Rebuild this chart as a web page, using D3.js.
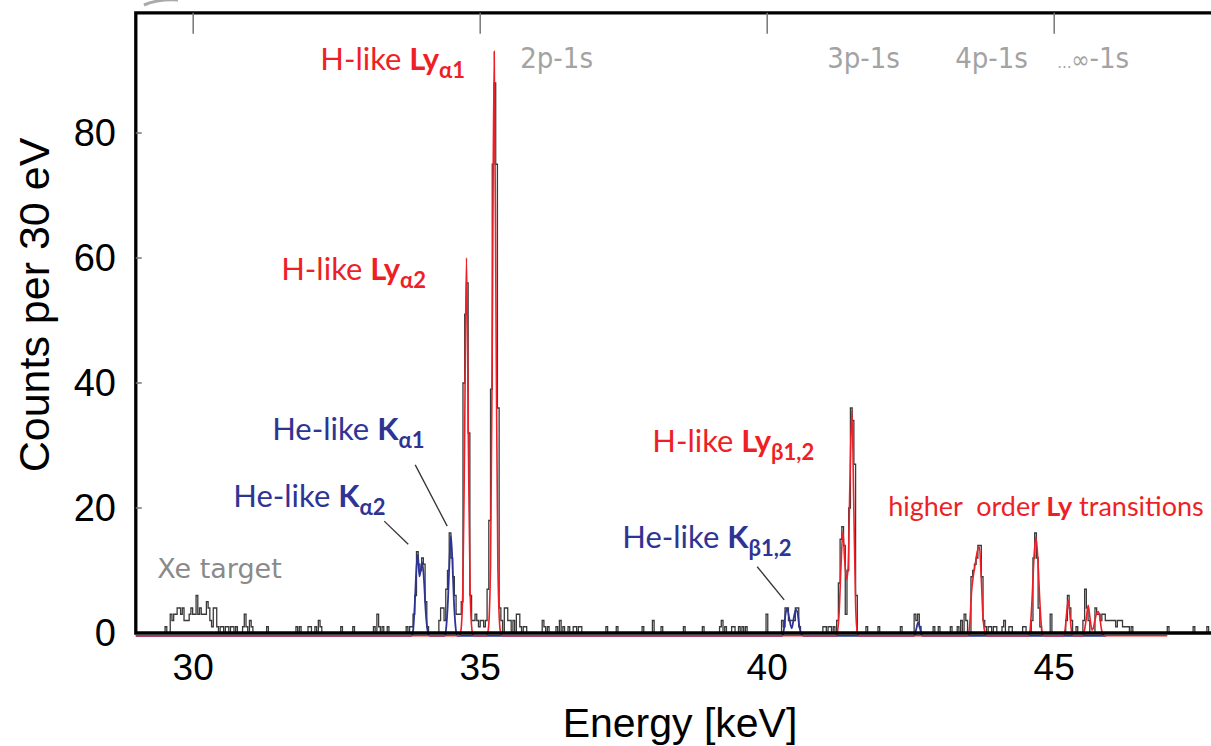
<!DOCTYPE html>
<html>
<head>
<meta charset="utf-8">
<script src="https://cdn.jsdelivr.net/npm/d3@7"></script>
<style>
    body { margin: 0; background: #fff; }
    svg { display: block; }
    text { white-space: pre; }
</style>
</head>
<body>
<div id="chart"></div>
<script>
(function () {

    // Histogram, 30 eV bins. Each run: energy of first bin [keV] + counts per bin
    var binWidth = 0.03;
    var runStart = [29.51, 30.86, 31.28, 31.79, 32.00, 32.57, 32.78, 33.14, 33.71, 34.28,
                    36.08, 37.19, 37.37, 37.82, 38.00, 38.15, 38.54, 38.87, 39.17, 39.98,
                    40.25, 40.97, 41.72, 41.93, 42.32, 42.56, 42.89, 43.19, 43.31, 44.09,
                    44.45, 44.60, 44.93, 45.20, 46.97, 47.42, 47.66];
    var runCounts = [
        [1,0,0,3,2,3,3,4,4,3,4,2,2,2,3,4,3,3,6,3,4,3,3,3,5,4,2,1,4,4,1,0,1,1,0,1,1,0,1,1,0,1],
        [1,3,1,0,2,1],
        [1],
        [1,0,1],
        [1,1,0,0,1,0,2,1],
        [1],
        [1],
        [1,0,3,1,0,1,0,0,1],
        [1,0,1,1,3,6,13,11,10,12,11,5,1],
        [2,4,4,2,7,10,16,12,9,6,3,3,3,5,40,51,56,32,6,2,2,3,2,1,2,2,1,2,7,18,39,75,88,75,36,4,2,0,4,4,2,2,0,2,0,3,3,1,0,1,1],
        [2,1,0,1,0,0,0,0,1,0,2,0,1,0,0,1,0,0,1,1,0,1,1],
        [1],
        [1],
        [1],
        [2],
        [1],
        [1],
        [1],
        [1,2,0,1,0,0,0,1,1,0,0,1,0,1,0,1],
        [3],
        [2,1,4,4,2,2,2,2,4,4,1],
        [1,1,0,1,1,0,1,0,2,8,15,17,14,3,10,20,36,34,27,6],
        [1],
        [1],
        [1],
        [3,2,3,1],
        [1,0,0,1],
        [1],
        [1,0,2,0,3,2,0,0,9,10,11,12,14,14,9,2,1,0,1,1,0,1,1],
        [1,2,0,0,1,1],
        [1,1],
        [2,12,16,12,4,1],
        [3],
        [2,6,4,2,0,0,1,0,0,0,2,7,4,2,0,0,0,4,3,3,2,3,3,2,2,2,2,2,2,1,2,2,2,1,1,1,1,0,1],
        [1],
        [1],
        [1]
    ];

    // Fit of the H-like lines (red)
    var hFitEnergy = [29.0,
        34.63, 34.66, 34.697, 34.727, 34.761, 34.795, 34.825, 34.862, 34.89,
        35.11, 35.14, 35.18, 35.21, 35.244, 35.278, 35.308, 35.348, 35.38,
        41.19, 41.22, 41.255, 41.285, 41.319, 41.35, 41.385, 41.41, 41.44, 41.476, 41.51, 41.54, 41.57, 41.6,
        43.5, 43.53, 43.56, 43.59, 43.625, 43.66, 43.698, 43.73, 43.76, 43.8, 43.83,
        44.55, 44.58, 44.615, 44.648, 44.681, 44.714, 44.747, 44.782, 44.81,
        45.16, 45.19, 45.215, 45.244, 45.273, 45.298, 45.33,
        45.5, 45.53, 45.562, 45.592, 45.622, 45.66, 45.68, 45.71, 45.74, 45.767, 45.795, 45.82, 45.85, 45.88,
        46.97];
    var hFitCounts = [0,
        0, 0.6, 7, 30, 60.5, 30, 7, 0.6, 0,
        0, 0.9, 11, 47, 93.5, 47, 11, 0.9, 0,
        0, 0.5, 4, 11, 16.7, 12, 9, 11, 24, 36, 20, 5, 0.6, 0,
        0, 2, 7, 9.5, 11.5, 13.5, 14.2, 9, 3, 0.3, 0,
        0, 1, 6, 12.5, 15.8, 12.5, 6, 1, 0,
        0, 1, 3.5, 5.7, 3.5, 1, 0,
        0, 1, 3, 4.9, 3, 0.9, 1.2, 2.5, 3.6, 3.9, 3, 1.2, 0.2, 0,
        0];

    // Fit of the He-like lines (blue)
    var heFitEnergy = [29.0,
        33.80, 33.83, 33.86, 33.89, 33.915, 33.94, 33.965, 33.99, 34.02, 34.05, 34.08, 34.12,
        34.38, 34.41, 34.44, 34.465, 34.49, 34.515, 34.54, 34.57, 34.6,
        40.26, 40.29, 40.32, 40.348, 40.38, 40.428, 40.47, 40.5, 40.53, 40.56, 40.6, 40.63,
        42.56, 42.595, 42.631, 42.667, 42.7,
        45.9];
    var heFitCounts = [0,
        0, 0.8, 5, 11, 13, 9.5, 10.5, 11.8, 9, 4, 1, 0,
        0, 1.5, 6, 12, 16, 12, 6, 1.5, 0,
        0, 1, 3.5, 4.4, 3, 1.2, 3.2, 4.2, 3.6, 1.5, 0.2, 0,
        0, 1, 2.2, 1, 0,
        0];

    // Axes
    var xTicks = [30, 35, 40, 45];
    var yTicks = [0, 20, 40, 60, 80];

    // Annotation texts: [plain, bold, subscript]
    var hLabels = [['H-like ', 'Ly', 'α1'], ['H-like ', 'Ly', 'α2'], ['H-like ', 'Ly', 'β1,2']];
    var heLabels = [['He-like ', 'K', 'α1'], ['He-like ', 'K', 'α2'], ['He-like ', 'K', 'β1,2']];
    var transitions = ['2p-1s', '3p-1s', '4p-1s'];

    // where the annotations sit, in data units [keV, counts]
    var hLabelAt = [[32.213, 90.1], [31.533, 56.5], [37.997, 29.0]];
    var heLabelAt = [[31.376, 30.9], [30.697, 20.2], [37.474, 13.6]];
    var leaderFrom = [[33.868, 26.9], [33.328, 17.9], [39.826, 10.6]];
    var leaderTo = [[34.425, 17.1], [33.746, 14.2], [40.296, 5.3]];
    var transitionAt = [35.697, 41.045, 43.275, 45.052];

    // Colours
    var red = '#ee1f26', blue = '#2e3494', histColor = '#3a3a3a';

    // Root svg
    var W = 1211, H = 746;
    var svg = d3.select('#chart')
        .append('svg')
        .attr('width', W)
        .attr('height', H)
        .style('background', '#fff');

    // Scales: frame left at 29 keV, right edge falls outside the window
    var x = d3.scaleLinear().domain([29, 48]).range([135.8, 135.8 + 19 * 57.4]);
    var y = d3.scaleLinear().domain([0, 99.2]).range([633, 13]);

    // Histogram bins from the runs
    var nBins = Math.round((48 - 29) / binWidth);
    var counts = new Array(nBins).fill(0);
    runStart.forEach(function (s, i) {
        var k0 = Math.round((s - 29) / binWidth);
        runCounts[i].forEach(function (c, j) {
            counts[k0 + j] = c;
        });
    });
    var histPts = counts.map(function (c, k) {
        return [29 + k * binWidth, c];
    });
    histPts.push([48, 0]);

    var plot = svg.append('g');

    plot.append('path')
        .datum(histPts)
        .attr('fill', 'none')
        .attr('stroke', histColor)
        .attr('stroke-width', 1.3)
        .attr('d', d3.line()
            .x(function (d) { return x(d[0]); })
            .y(function (d) { return y(d[1]); })
            .curve(d3.curveStepAfter));

    // Fits (drawn a touch lower so the baseline shows under the axis line)
    var fitLine = d3.line()
        .x(function (d) { return x(d[0]); })
        .y(function (d) { return y(d[1]); })
        .curve(d3.curveMonotoneX);

    var fits = plot.append('g').attr('transform', 'translate(0,2.8)');

    fits.append('path')
        .datum(heFitEnergy.map(function (e, i) { return [e, heFitCounts[i]]; }))
        .attr('fill', 'none')
        .attr('stroke', blue)
        .attr('stroke-width', 1.8)
        .attr('d', fitLine);

    fits.append('path')
        .datum(hFitEnergy.map(function (e, i) { return [e, hFitCounts[i]]; }))
        .attr('fill', 'none')
        .attr('stroke', red)
        .attr('stroke-width', 1.6)
        .attr('d', fitLine);

    // Frame
    var x0 = x(29), x1 = x(48), yTop = 12.8, yBot = y(0);
    svg.append('path')
        .attr('d', 'M' + x1 + ',' + yTop + 'H' + x0 + 'V' + yBot + 'H' + x1)
        .attr('fill', 'none')
        .attr('stroke', '#000')
        .attr('stroke-width', 3.3);

    // inner ticks: top and left
    svg.selectAll('.xt')
        .data(xTicks)
        .enter()
        .append('line')
        .attr('x1', function (d) { return x(d); })
        .attr('x2', function (d) { return x(d); })
        .attr('y1', yTop)
        .attr('y2', yTop + 21)
        .attr('stroke', '#777')
        .attr('stroke-width', 1.5);

    svg.selectAll('.yt')
        .data(yTicks.slice(1))
        .enter()
        .append('line')
        .attr('x1', x0)
        .attr('x2', x0 + 6)
        .attr('y1', function (d) { return y(d); })
        .attr('y2', function (d) { return y(d); })
        .attr('stroke', '#777')
        .attr('stroke-width', 1.5);

    // tick labels
    svg.selectAll('.xl')
        .data(xTicks)
        .enter()
        .append('text')
        .attr('x', function (d) { return x(d); })
        .attr('y', 680)
        .attr('text-anchor', 'middle')
        .attr('font-family', 'Liberation Sans, Arial, sans-serif')
        .attr('font-size', 37)
        .text(function (d) { return d; });

    svg.selectAll('.yl')
        .data(yTicks)
        .enter()
        .append('text')
        .attr('x', 116)
        .attr('y', function (d) { return y(d) + 13; })
        .attr('text-anchor', 'end')
        .attr('font-family', 'Liberation Sans, Arial, sans-serif')
        .attr('font-size', 38)
        .text(function (d) { return d; });

    // axis titles
    svg.append('text')
        .attr('x', 680)
        .attr('y', 737)
        .attr('text-anchor', 'middle')
        .attr('font-family', 'Liberation Sans, Arial, sans-serif')
        .attr('font-size', 41)
        .text('Energy [keV]');

    svg.append('text')
        .attr('transform', 'translate(49,305) rotate(-90)')
        .attr('text-anchor', 'middle')
        .attr('font-family', 'Liberation Sans, Arial, sans-serif')
        .attr('font-size', 43)
        .text('Counts per 30 eV');

    // Leader lines for the He-like lines
    svg.selectAll('.lead')
        .data(leaderFrom)
        .enter()
        .append('line')
        .attr('x1', function (d) { return x(d[0]); })
        .attr('y1', function (d) { return y(d[1]); })
        .attr('x2', function (d, i) { return x(leaderTo[i][0]); })
        .attr('y2', function (d, i) { return y(leaderTo[i][1]); })
        .attr('stroke', '#333')
        .attr('stroke-width', 1.3);

    // Line labels
    var addLabel = function (parts, at, color) {
        var t = svg.append('text')
            .attr('x', x(at[0]))
            .attr('y', y(at[1]))
            .attr('font-family', 'Lato, Open Sans, sans-serif')
            .attr('font-size', 31)
            .attr('fill', color);
        t.append('tspan').text(parts[0]);
        t.append('tspan').attr('font-weight', 'bold').text(parts[1]);
        t.append('tspan')
            .attr('font-weight', 'bold')
            .attr('font-size', 22)
            .attr('dy', 8)
            .text(parts[2]);
    };
    hLabels.forEach(function (p, i) { addLabel(p, hLabelAt[i], red); });
    heLabels.forEach(function (p, i) { addLabel(p, heLabelAt[i], blue); });

    var higher = svg.append('text')
        .attr('x', x(42.108))
        .attr('y', y(18.7))
        .attr('font-family', 'Lato, Open Sans, sans-serif')
        .attr('font-size', 27)
        .attr('fill', red);
    higher.append('tspan').text('higher  order ');
    higher.append('tspan').attr('font-weight', 'bold').text('Ly');
    higher.append('tspan').text(' transitions');

    svg.append('text')
        .attr('x', x(29.373))
        .attr('y', y(8.8))
        .attr('font-family', 'Comic Sans MS, DejaVu Sans, sans-serif')
        .attr('font-size', 27)
        .attr('fill', '#8a8a8a')
        .text('Xe target');

    // Transition names along the top
    var trY = y(90.4);
    transitions.forEach(function (s, i) {
        svg.append('text')
            .attr('x', x(transitionAt[i]))
            .attr('y', trY)
            .attr('font-family', 'DejaVu Sans Condensed, Liberation Sans Narrow, Roboto, sans-serif')
            .attr('font-stretch', 'condensed')
            .attr('font-size', 29)
            .attr('fill', '#a3a3a3')
            .text(s);
    });
    var inf = svg.append('text')
        .attr('x', x(transitionAt[3]))
        .attr('y', trY)
        .attr('font-family', 'DejaVu Sans Condensed, Liberation Sans Narrow, Roboto, sans-serif')
        .attr('font-stretch', 'condensed')
        .attr('fill', '#a3a3a3');
    inf.append('tspan').attr('font-size', 16).text('…');
    inf.append('tspan').attr('font-size', 24).text('∞');
    inf.append('tspan').attr('font-size', 29).text('-1s');

    // stray grey swoosh in the top-left corner of the scan
    svg.append('path')
        .attr('d', 'M144,5 Q158,-1 178,0')
        .attr('fill', 'none')
        .attr('stroke', '#aaa')
        .attr('stroke-width', 3);

})();
</script>
</body>
</html>
